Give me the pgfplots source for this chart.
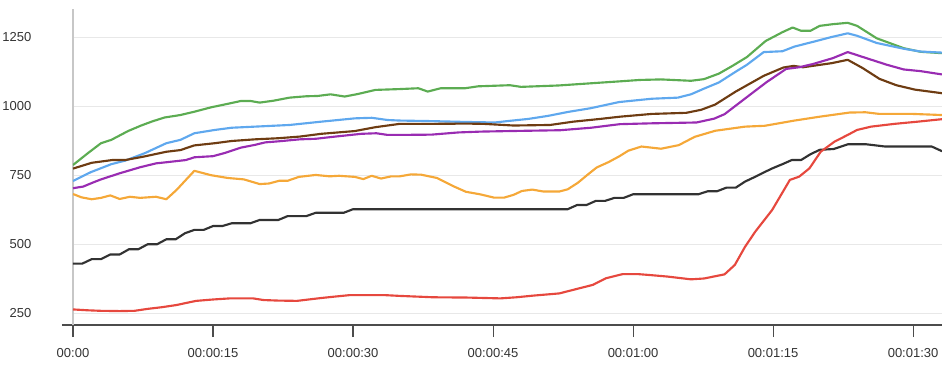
\documentclass[border=0pt]{standalone}
\usepackage{pgfplots}
\pgfplotsset{compat=1.18}
\usepackage{fontspec}
\setmainfont{Liberation Sans}
\definecolor{cgreen}{RGB}{92,172,82}
\definecolor{cblue}{RGB}{95,168,238}
\definecolor{cpurple}{RGB}{153,44,178}
\definecolor{cbrown}{RGB}{110,60,18}
\definecolor{corange}{RGB}{245,168,56}
\definecolor{cblack}{RGB}{50,50,50}
\definecolor{cred}{RGB}{230,72,62}
\begin{document}
\begin{tikzpicture}
\path[use as bounding box] (-54.75pt,-40.5pt) rectangle (651.75pt,243.75pt);
\begin{axis}[
  at={(0pt,0pt)}, anchor=south west,
  scale only axis, width=651.75pt, height=237pt,
  xmin=0, xmax=93.1, ymin=207.6, ymax=1352,
  axis x line=bottom, axis y line=left,
  axis line style={-},
  x axis line style={-, draw=black!70, line width=0.9pt, shorten <=-8.25pt},
  y axis line style={-, draw=black!22, line width=0.9pt},
  xtick={0,15,30,45,60,75,90},
  xticklabels={00:00,00:00:15,00:00:30,00:00:45,00:01:00,00:01:15,00:01:30},
  ytick={250,500,750,1000,1250},
  tick align=outside,
  major tick length=9pt,
  xtick style={draw=black!70, line width=0.8pt},
  ytick style={draw=none},
  ymajorgrids,
  major grid style={draw=black!9, line width=0.8pt},
  /pgf/number format/assume math mode=true,
  /pgf/number format/1000 sep={},
  ticklabel style={font=\fontsize{9.75}{11}\selectfont, text=black!80},
  xticklabel style={anchor=north, inner sep=0pt, yshift=-8pt},
  yticklabel style={anchor=east, inner sep=0pt, xshift=-22pt},
  every axis plot/.append style={line width=1.6pt, mark=none, line join=round},
  clip=true,
]
% green
\addplot[cgreen] coordinates {(0,787)(1.6,830)(3,866)(4.1,878)(5.9,910)(7.3,930)(8.5,945)(9.8,959)(11.5,968)(13,980)(14.8,996)(16.5,1008)(18,1019)(19,1019)(20,1013)(21.5,1020)(23.2,1031)(25,1036)(26.2,1037)(27.6,1043)(29.1,1035)(30.5,1044)(32.4,1059)(35,1062)(37,1065)(38,1053)(39.4,1065)(42,1065)(43.4,1072)(46.8,1076)(48,1070)(52,1075)(55.5,1083)(58.6,1090)(60.7,1095)(63,1097)(66.2,1092)(67.6,1098)(69.2,1118)(70.6,1145)(72.2,1178)(74.2,1236)(76,1268)(77.1,1285)(78,1273)(79,1273)(80,1291)(81.4,1297)(83,1302)(84,1291)(86.1,1246)(89,1210)(90.8,1197)(93.1,1192)};
% blue
\addplot[cblue] coordinates {(0,729)(1.9,761)(4.1,790)(5.6,803)(7.7,830)(10,866)(11.5,878)(13,902)(15.2,914)(17,922)(19.5,926)(23.2,932)(26.6,944)(30.2,956)(32,958)(33.7,950)(35,948)(38.4,946)(42,943)(45.2,941)(46.8,947)(48.8,954)(50.9,965)(53,979)(55.5,993)(58.5,1015)(62,1027)(64.8,1031)(66.2,1043)(67.7,1065)(69.2,1086)(71,1125)(72.2,1150)(74,1196)(76,1199)(77.3,1216)(79.4,1234)(81.2,1250)(83,1264)(84,1255)(86.1,1229)(89,1208)(90.8,1198)(93.1,1194)};
% brown
\addplot[cbrown] coordinates {(0,774)(2,795)(4.2,805)(5.6,805)(7.5,817)(10,835)(11.5,841)(13,858)(15.2,866)(17,874)(19.5,880)(22,884)(24.3,890)(26.6,900)(30.2,910)(32.4,924)(35,936)(38.4,936)(42.2,937)(44,936)(47.2,930)(51.1,932)(53.6,944)(56.5,954)(58.6,962)(62,972)(65.7,976)(67.3,987)(68.8,1006)(71,1053)(74,1110)(76.1,1140)(77.2,1146)(78.2,1141)(81.3,1156)(83,1168)(84.6,1138)(86.4,1099)(88.2,1076)(90.2,1060)(93.1,1047)};
% purple
\addplot[cpurple] coordinates {(0,703)(1.1,709)(2.1,723)(3,735)(5,757)(7.2,779)(8.9,793)(10,797)(12.1,805)(13,815)(15,819)(16.2,830)(18,850)(19.5,860)(20.6,869)(22.1,873)(24.3,880)(26,882)(28.1,890)(30.9,900)(32.5,902)(33.7,896)(35,896)(38.4,897)(41.3,905)(43.7,908)(46.8,910)(52.2,913)(55.5,922)(58.6,935)(62,938)(66.8,941)(68.7,955)(69.8,971)(72.2,1033)(74.3,1087)(76.4,1135)(77.8,1141)(79.3,1153)(81.4,1174)(83,1196)(85,1174)(87.2,1150)(89,1133)(90.8,1127)(93.1,1115)};
% orange
\addplot[corange] coordinates {(0,682)(0.9,670)(2,663)(3,668)(4,677)(5,664)(6.1,672)(7.2,668)(8.9,672)(10,663)(11.1,697)(13,766)(14.8,750)(16.6,740)(18.3,735)(20,718)(21,720)(22.1,730)(23,730)(24.2,744)(26,751)(27.5,746)(28.5,748)(30.2,744)(31.1,736)(32,748)(33,738)(34.1,746)(35,746)(36.2,753)(37.3,752)(39,740)(40.7,711)(42.1,690)(43.6,681)(45.1,669)(46.2,669)(47.2,679)(48.1,693)(49.2,698)(50.4,691)(52.1,691)(53,699)(54.1,723)(55.1,751)(56.1,778)(57.4,798)(58.5,818)(59.5,839)(60.9,854)(63,846)(64.9,859)(66.6,889)(68.8,911)(72,926)(74.1,929)(77.3,948)(80,962)(83.2,977)(84.9,978)(86.4,972)(90,972)(93.1,968)};
% black
\addplot[cblack] coordinates {(0,430)(1,430)(2,446)(3,446)(4,463)(5,463)(6,482)(7,482)(8,500)(9,500)(10,518)(11,518)(12,540)(13,552)(14,552)(15,566)(16,566)(17,576)(18,576)(19,576)(20,588)(21,588)(22,588)(23,602)(24,602)(25,602)(26,614)(27,614)(28,614)(29,614)(30,627)(53,627)(54,642)(55,642)(56,657)(57,657)(58,668)(59,668)(60,681)(67,681)(68,692)(69,692)(70,705)(71,705)(72,727)(73,743)(74,760)(75,776)(76,790)(77,805)(78,805)(79,826)(80,842)(81.5,845)(83,862)(85,862)(87,854)(92,854)(93.1,837)};
% red
\addplot[cred] coordinates {(0,264)(1.5,261)(2.9,259)(5,258)(6.6,259)(8,266)(9.5,272)(11.1,280)(12.2,288)(13.2,295)(15,300)(16.8,304)(19.3,304)(20.4,298)(22,296)(24,295)(26.5,305)(27.9,310)(29.7,316)(33.3,316)(35,313)(38.6,308)(42.2,307)(45.8,304)(47.5,308)(49.3,314)(52.1,322)(54.3,341)(55.7,353)(57.1,377)(58.9,392)(60.5,392)(62,388)(63.7,383)(66.2,373)(67.6,376)(69.8,391)(70.9,425)(72,491)(73.1,546)(74.9,624)(76.8,733)(77.8,745)(78.9,775)(80.1,835)(81.6,872)(83,896)(84,914)(85.5,926)(88,936)(90.5,944)(93.1,953)};
\end{axis}
\end{tikzpicture}
\end{document}
